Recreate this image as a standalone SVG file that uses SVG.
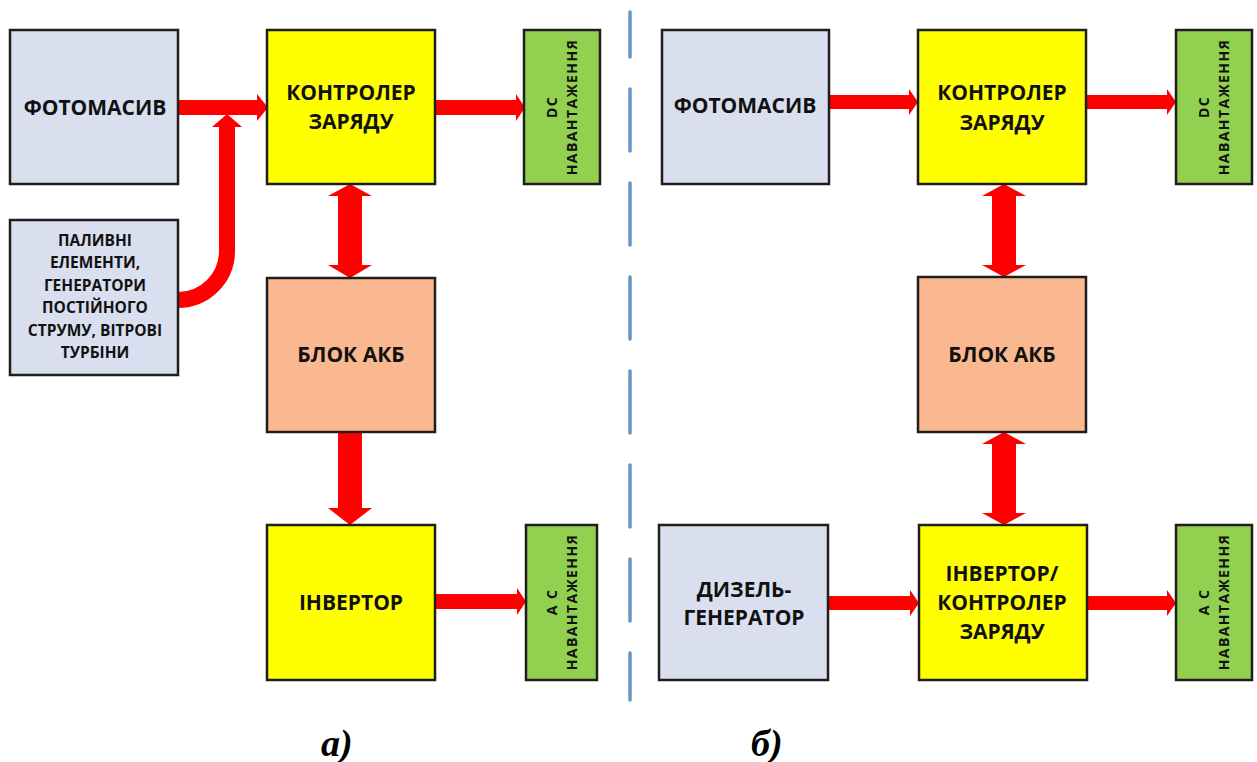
<svg xmlns="http://www.w3.org/2000/svg" width="1257" height="762" viewBox="0 0 1257 762">
<style>
.box{stroke:#1e1e1e;stroke-width:2.5}
.src{fill:#D9DFEE}
.ctl{fill:#FFFF00}
.bat{fill:#F9B88F}
.load{fill:#92D050}
.t{font-family:"Open Sans","Liberation Sans",sans-serif;font-weight:bold;font-size:21px;fill:#111;text-anchor:middle}
.ts{font-family:"Open Sans","Liberation Sans",sans-serif;font-weight:bold;font-size:15.5px;fill:#111;text-anchor:middle}
.tv{font-family:"Open Sans","Liberation Sans",sans-serif;font-weight:bold;font-size:14px;fill:#111;text-anchor:middle;letter-spacing:1.4px}
.arr{fill:#FF0000}
.cap{font-family:"Liberation Serif",serif;font-weight:bold;font-style:italic;font-size:38px;fill:#000}
</style>
<rect width="1257" height="762" fill="#fff"/>
<path d="M630,12 V57 M630,89 V151 M630,183 V245 M630,277 V339 M630,371 V433 M630,465 V527 M630,559 V621 M630,653 V700" fill="none" stroke="#6695C5" stroke-width="3.5" stroke-linecap="round"/>
<g id="connectors">
<polygon class="arr" points="178,100 257,100 257,94 268,107.5 257,121 257,115 178,115"/>
<path d="M178,300 A49,49 0 0 0 227,251 V124" fill="none" stroke="#FF0000" stroke-width="16"/>
<polygon class="arr" points="212,127 227,114 242,127"/>
<polygon class="arr" points="435,100 516,100 516,94 525,107.5 516,121 516,115 435,115"/>
<polygon class="arr" points="350,184 372,196 362,196 362,265 372,265 350,278 328,265 338,265 338,196 328,196"/>
<polygon class="arr" points="338,432 362,432 362,508 372,508 350,525 328,508 338,508"/>
<polygon class="arr" points="435,594 517,594 517,588 526,601.5 517,615 517,609 435,609"/>
<polygon class="arr" points="829,95 909,95 909,89 918,102 909,115 909,109 829,109"/>
<polygon class="arr" points="1086,95 1167,95 1167,89 1176,102 1167,115 1167,109 1086,109"/>
<polygon class="arr" points="1004,184 1026,196 1016,196 1016,265 1026,265 1004,277 982,265 992,265 992,196 982,196"/>
<polygon class="arr" points="1004,432 1026,444 1016,444 1016,513 1026,513 1004,525 982,513 992,513 992,444 982,444"/>
<polygon class="arr" points="828,596 910,596 910,590 919,603 910,616 910,610 828,610"/>
<polygon class="arr" points="1087,596 1167,596 1167,590 1176,603 1167,616 1167,610 1087,610"/>
</g>
<g id="a-photo"><rect class="box src" x="10" y="30" width="168" height="154"/><text class="t" x="95" y="115">ФОТОМАСИВ</text></g>
<g id="a-other"><rect class="box src" x="10" y="220" width="168" height="155"/>
<text class="ts"><tspan x="95" y="246">ПАЛИВНІ</tspan><tspan x="95" y="268">ЕЛЕМЕНТИ,</tspan><tspan x="95" y="291">ГЕНЕРАТОРИ</tspan><tspan x="95" y="313">ПОСТІЙНОГО</tspan><tspan x="95" y="336">СТРУМУ, ВІТРОВІ</tspan><tspan x="95" y="358">ТУРБІНИ</tspan></text></g>
<g id="a-ctrl"><rect class="box ctl" x="267" y="30" width="168" height="154"/><text class="t"><tspan x="351" y="100">КОНТРОЛЕР</tspan><tspan x="351" y="129">ЗАРЯДУ</tspan></text></g>
<g id="a-dc"><rect class="box load" x="524" y="30" width="76" height="154"/><text class="tv" transform="translate(562,107) rotate(-90)"><tspan x="0" y="-5">DC</tspan><tspan x="0" y="15">НАВАНТАЖЕННЯ</tspan></text></g>
<g id="a-bat"><rect class="box bat" x="267" y="278" width="168" height="154"/><text class="t" x="351" y="362">БЛОК АКБ</text></g>
<g id="a-inv"><rect class="box ctl" x="267" y="525" width="168" height="155"/><text class="t" x="351" y="610">ІНВЕРТОР</text></g>
<g id="a-ac"><rect class="box load" x="526" y="525" width="71" height="155"/><text class="tv" transform="translate(562,602) rotate(-90)"><tspan x="0" y="-5">А С</tspan><tspan x="0" y="15">НАВАНТАЖЕННЯ</tspan></text></g>
<g id="b-photo"><rect class="box src" x="662" y="30" width="167" height="154"/><text class="t" x="745" y="113">ФОТОМАСИВ</text></g>
<g id="b-ctrl"><rect class="box ctl" x="918" y="30" width="168" height="154"/><text class="t"><tspan x="1002" y="100">КОНТРОЛЕР</tspan><tspan x="1002" y="130">ЗАРЯДУ</tspan></text></g>
<g id="b-dc"><rect class="box load" x="1176" y="30" width="76" height="154"/><text class="tv" transform="translate(1214,107) rotate(-90)"><tspan x="0" y="-5">DC</tspan><tspan x="0" y="15">НАВАНТАЖЕННЯ</tspan></text></g>
<g id="b-bat"><rect class="box bat" x="918" y="277" width="168" height="155"/><text class="t" x="1002" y="362">БЛОК АКБ</text></g>
<g id="b-diesel"><rect class="box src" x="659" y="525" width="169" height="155"/><text class="t"><tspan x="744" y="597">ДИЗЕЛЬ-</tspan><tspan x="744" y="625">ГЕНЕРАТОР</tspan></text></g>
<g id="b-inv"><rect class="box ctl" x="919" y="525" width="168" height="155"/><text class="t"><tspan x="1002" y="581">ІНВЕРТОР/</tspan><tspan x="1002" y="610">КОНТРОЛЕР</tspan><tspan x="1002" y="639">ЗАРЯДУ</tspan></text></g>
<g id="b-ac"><rect class="box load" x="1176" y="525" width="76" height="155"/><text class="tv" transform="translate(1214,602) rotate(-90)"><tspan x="0" y="-5">А С</tspan><tspan x="0" y="15">НАВАНТАЖЕННЯ</tspan></text></g>
<text class="cap" x="321" y="756">а)</text>
<text class="cap" x="751" y="756">б)</text>
</svg>
